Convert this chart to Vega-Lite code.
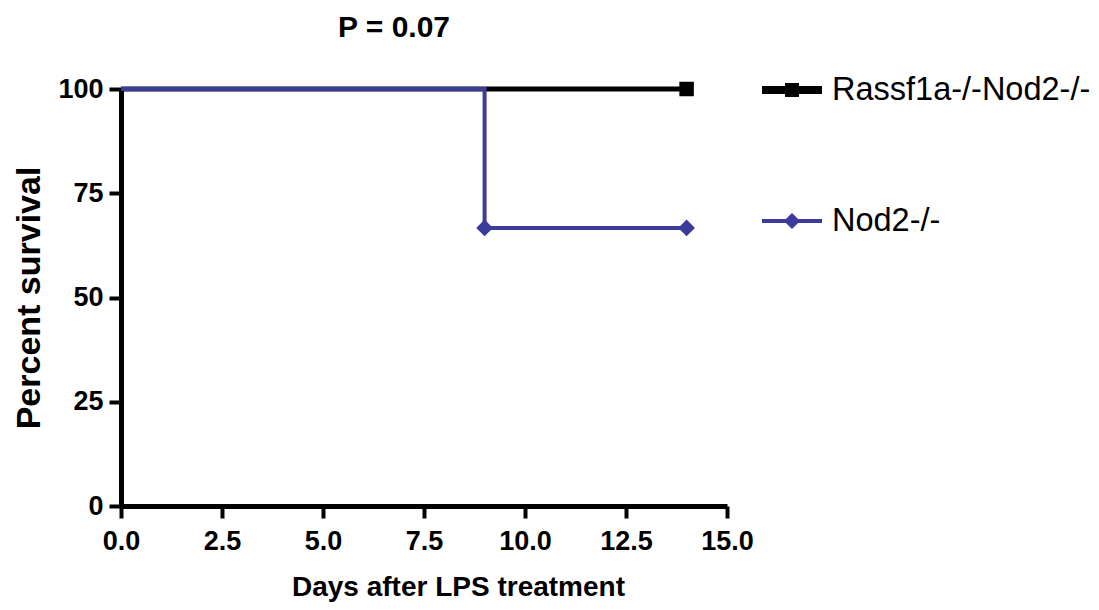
{
  "$schema": "https://vega.github.io/schema/vega-lite/v6.json",
  "width": 606,
  "height": 417,
  "autosize": {"type": "none"},
  "padding": {"left": 121, "top": 89, "right": 372, "bottom": 104},
  "background": "white",
  "title": {
    "text": "P = 0.07",
    "font": "Liberation Sans",
    "fontSize": 30,
    "fontWeight": "bold",
    "color": "black",
    "anchor": "middle",
    "frame": "group",
    "offset": 17,
    "dx": -30
  },
  "config": {
    "view": {"stroke": null},
    "axis": {
      "grid": false,
      "domainColor": "black",
      "domainWidth": 5,
      "tickColor": "black",
      "tickWidth": 4,
      "tickSize": 12,
      "labelFont": "Liberation Sans",
      "labelFontWeight": "bold",
      "labelFontSize": 27,
      "labelColor": "black",
      "labelFlush": false,
      "titleFont": "Liberation Sans",
      "titleFontWeight": "bold",
      "titleColor": "black"
    }
  },
  "data": {
    "values": [
      {"series": "Rassf1a-/-Nod2-/-", "day": 0, "survival": 100},
      {"series": "Rassf1a-/-Nod2-/-", "day": 14, "survival": 100},
      {"series": "Nod2-/-", "day": 0, "survival": 100},
      {"series": "Nod2-/-", "day": 9, "survival": 66.67},
      {"series": "Nod2-/-", "day": 14, "survival": 66.67}
    ]
  },
  "encoding": {
    "x": {
      "field": "day",
      "type": "quantitative",
      "scale": {"domain": [0, 15], "nice": false, "zero": false},
      "axis": {
        "values": [0, 2.5, 5, 7.5, 10, 12.5, 15],
        "format": ".1f",
        "labelPadding": 10,
        "title": "Days after LPS treatment",
        "titleFontSize": 28,
        "titlePadding": 19,
        "titleX": 337,
        "titleAlign": "center"
      }
    },
    "y": {
      "field": "survival",
      "type": "quantitative",
      "scale": {"domain": [0, 100], "nice": false},
      "axis": {
        "values": [0, 25, 50, 75, 100],
        "labelPadding": 6,
        "title": "Percent survival",
        "titleFontSize": 34,
        "titlePadding": 11
      }
    },
    "color": {
      "field": "series",
      "type": "nominal",
      "scale": {"domain": ["Rassf1a-/-Nod2-/-", "Nod2-/-"], "range": ["#000000", "#3b3b9b"]},
      "legend": {
        "orient": "none",
        "legendX": 641,
        "legendY": -29,
        "title": null,
        "padding": 0,
        "labelFont": "Liberation Sans",
        "labelFontSize": 32.5,
        "labelColor": "black",
        "labelLimit": 400,
        "labelOffset": 10,
        "symbolSize": 3600,
        "rowPadding": 84,
        "encode": {
          "symbols": {
            "update": {
              "shape": {"signal": "datum.value === 'Nod2-/-' ? 'M-1,-0.067H1V0.067H-1Z M0,-0.27L0.27,0L0,0.27L-0.27,0Z' : 'M-1,-0.133H1V0.133H-1Z M-0.233,-0.233H0.233V0.233H-0.233Z'"},
              "fill": {"signal": "datum.value === 'Nod2-/-' ? '#3b3b9b' : '#000000'"},
              "stroke": {"value": "transparent"},
              "strokeWidth": {"value": 0},
              "opacity": {"value": 1}
            }
          }
        }
      }
    }
  },
  "layer": [
    {
      "transform": [{"filter": "datum.series === 'Rassf1a-/-Nod2-/-'"}],
      "mark": {"type": "line", "strokeWidth": 5, "clip": false}
    },
    {
      "transform": [{"filter": "datum.series === 'Rassf1a-/-Nod2-/-' && datum.day > 0"}],
      "mark": {"type": "point", "shape": "square", "filled": true, "size": 210, "opacity": 1, "clip": false}
    },
    {
      "transform": [{"filter": "datum.series === 'Nod2-/-'"}],
      "mark": {"type": "line", "strokeWidth": 4, "interpolate": "step-after", "clip": false}
    },
    {
      "transform": [{"filter": "datum.series === 'Nod2-/-' && datum.day > 0"}],
      "mark": {"type": "point", "shape": "diamond", "filled": true, "size": 280, "opacity": 1, "clip": false}
    }
  ]
}
